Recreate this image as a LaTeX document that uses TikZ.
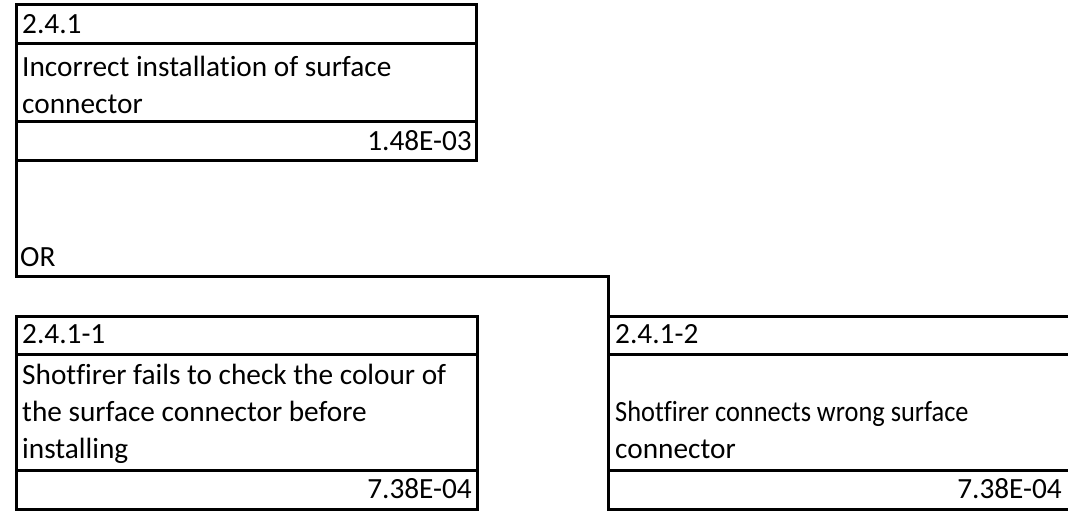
\documentclass[tikz,border=0pt]{standalone}
\usepackage{fontspec}
\setmainfont{Carlito}[Ligatures={NoCommon}]
\begin{document}
\begin{tikzpicture}[x=1pt,y=-1pt,
  frame/.style={line width=3pt,line cap=rect},
  txt/.style={inner sep=0pt,anchor=base west,font=\fontsize{29.3}{37}\selectfont},
  narrowtxt/.style={txt,xscale=0.9,transform shape},
  num/.style={inner sep=0pt,anchor=base east,font=\fontsize{29.3}{37}\selectfont}]
\useasboundingbox (0,0) rectangle (1068,511);
% coordinates
\coordinate (tTL) at (16,5);
\coordinate (tTR) at (476,5);
\coordinate (tBL) at (16,160);
\coordinate (tBR) at (476,160);
\coordinate (gL) at (16,276);
\coordinate (gR) at (608,276);
\coordinate (lTL) at (16,316);
\coordinate (lTR) at (477,316);
\coordinate (lBL) at (16,509);
\coordinate (lBR) at (477,509);
\coordinate (rTL) at (608,316);
\coordinate (rTR) at (1068,316);
\coordinate (rBL) at (608,509);
\coordinate (rBR) at (1068,509);
% top event box
\draw[frame] (tTL) rectangle (tBR);
\draw[frame] (16,44) -- (476,44);
\draw[frame] (16,121) -- (476,121);
% gate connector
\draw[frame] (tBL) -- (gL) -- (gR) -- (rTL);
% left box
\draw[frame] (lTL) rectangle (lBR);
\draw[frame] (16,354) -- (477,354);
\draw[frame] (16,470) -- (477,470);
% right box
\draw[frame] (rTR) -- (rTL) -- (rBL) -- (rBR);
\draw[frame] (608,354) -- (1068,354);
\draw[frame] (608,470) -- (1068,470);
% texts
\node[txt] (t1) at (22,34) {2.4.1};
\node[txt] (t2) at (22,77) {Incorrect installation of surface};
\node[txt] (t3) at (22,113) {connector};
\node[num] (t4) at (472,150) {1.48E-03};
\node[txt] (gor) at (20,266) {OR};
\node[txt] (l1) at (22,343) {2.4.1-1};
\node[txt] (l2) at (22,384) {Shotfirer fails to check the colour of};
\node[txt] (l3) at (22,421) {the surface connector before};
\node[txt] (l4) at (22,458) {installing};
\node[num] (l5) at (472,498) {7.38E-04};
\node[txt] (r1) at (615,343) {2.4.1-2};
\node[narrowtxt] (r2) at (615,421) {Shotfirer connects wrong surface};
\node[txt] (r3) at (615,458) {connector};
\node[num] (r4) at (1062,498) {7.38E-04};
\end{tikzpicture}
\end{document}
